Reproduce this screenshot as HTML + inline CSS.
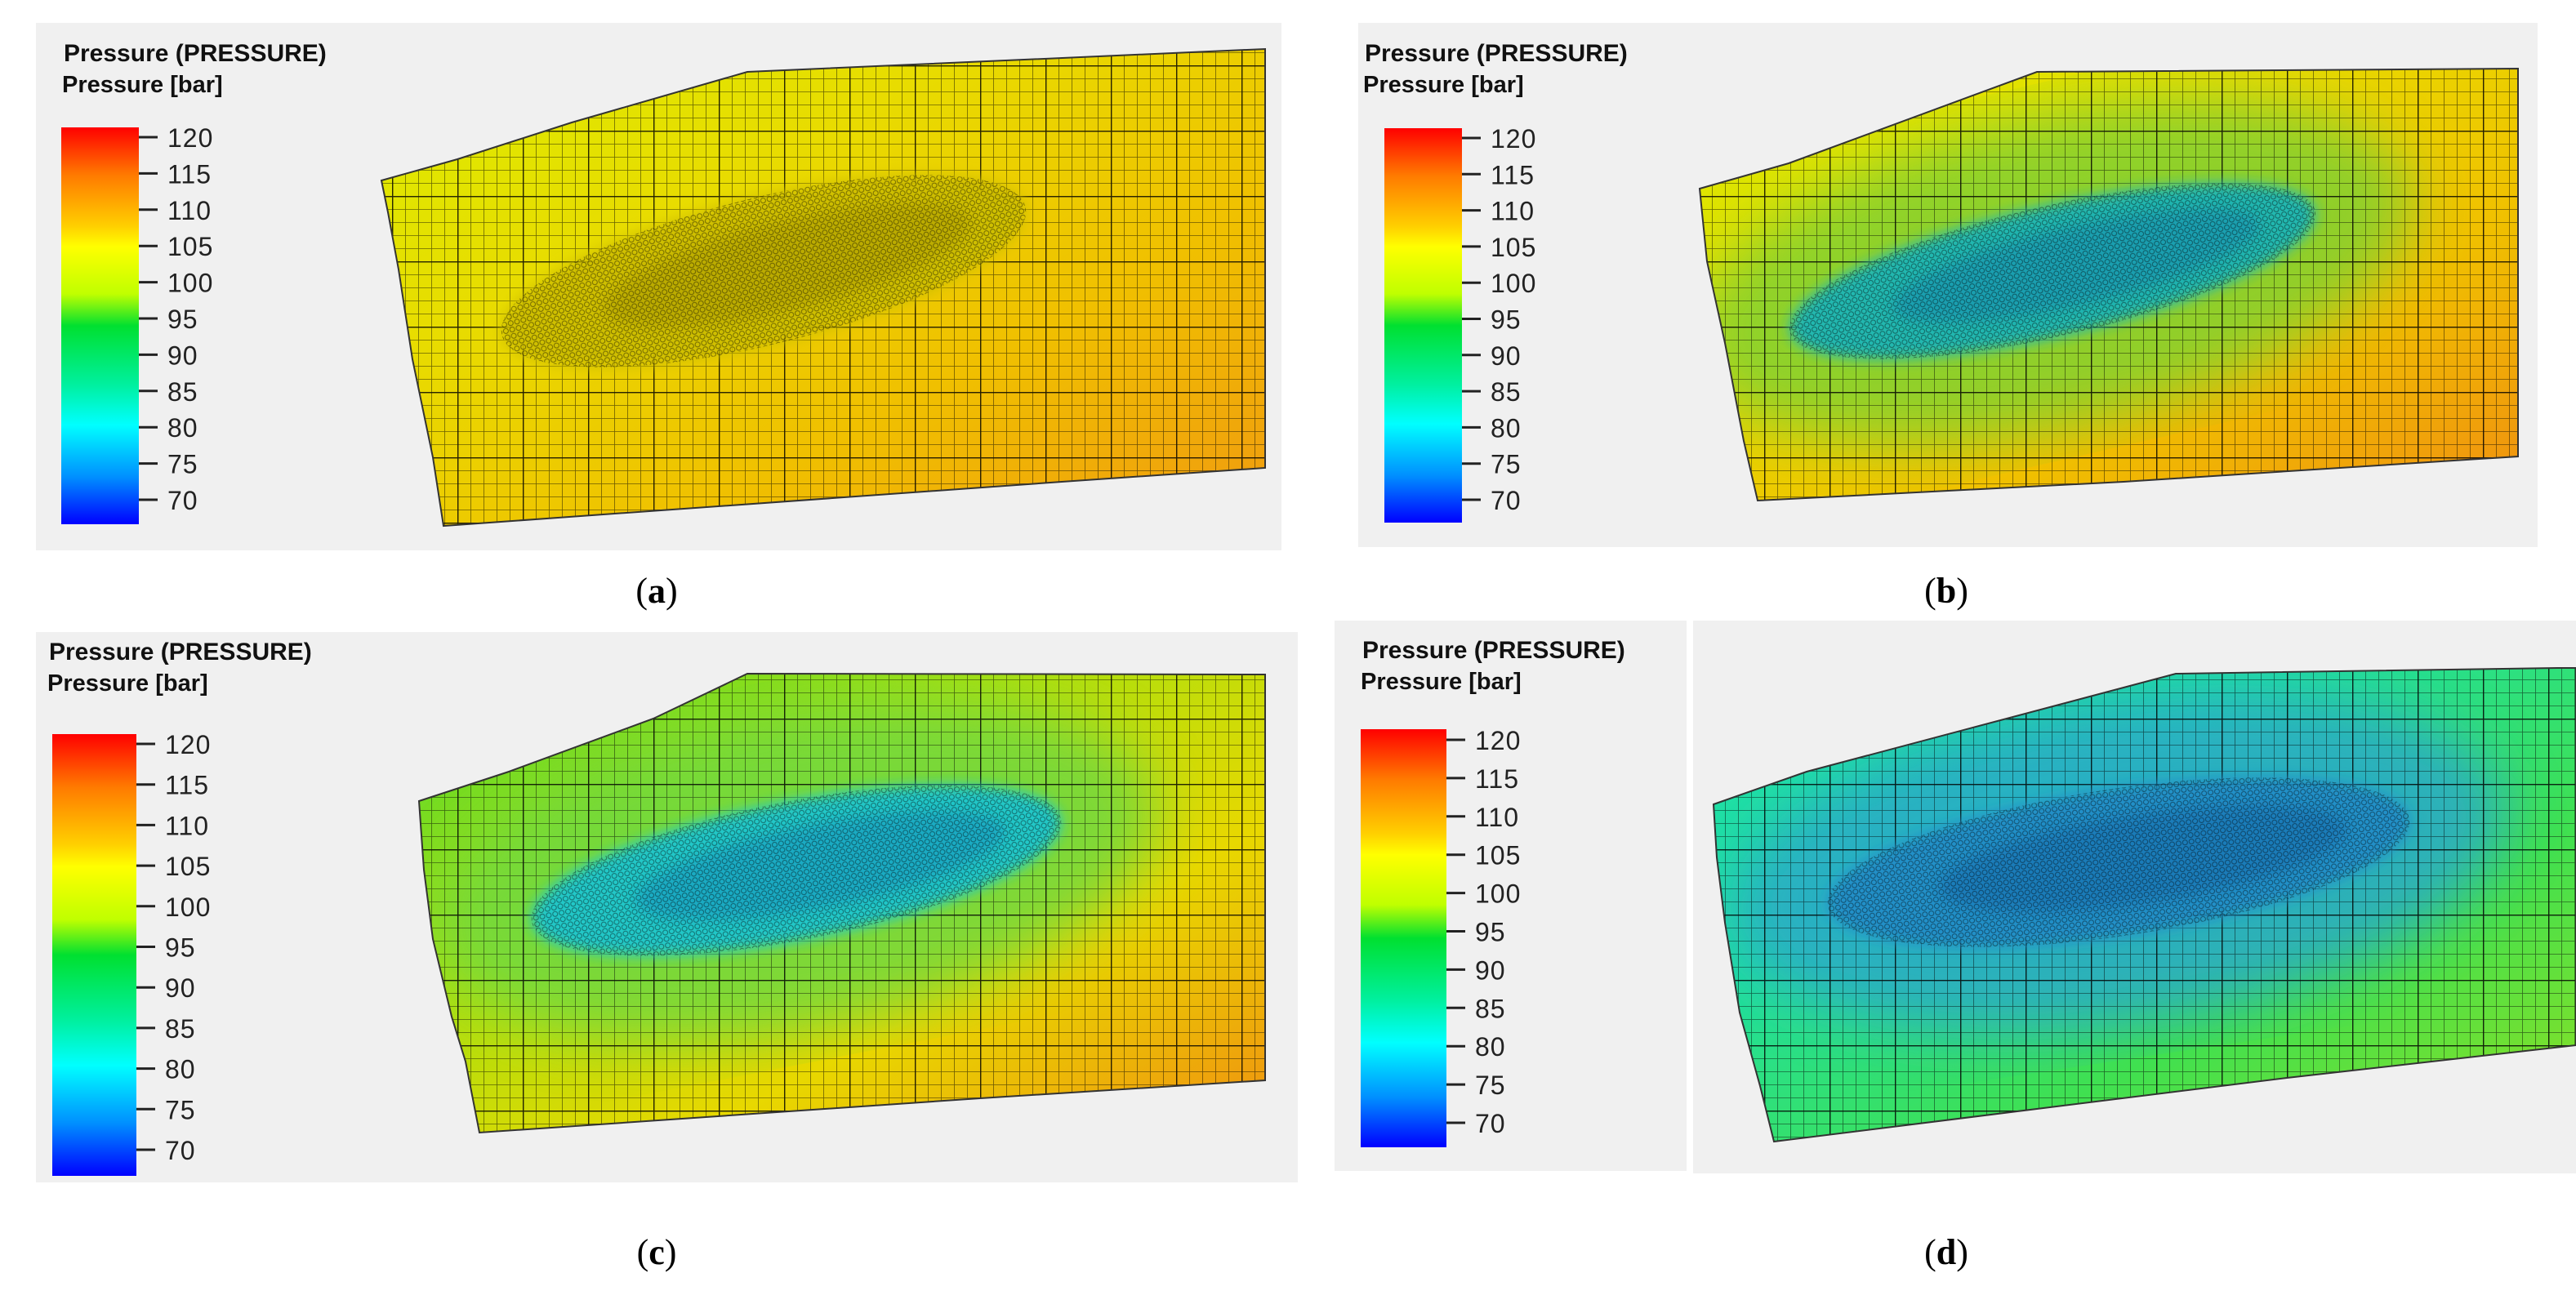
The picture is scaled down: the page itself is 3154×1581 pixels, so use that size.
<!DOCTYPE html>
<html><head><meta charset="utf-8">
<style>
html,body{margin:0;padding:0;background:#fff;}
body{width:3154px;height:1581px;position:relative;overflow:hidden;font-family:"Liberation Sans",sans-serif;}
svg{position:absolute;left:0;top:0;}
</style></head>
<body>
<svg id="fig" width="3154" height="1581" viewBox="0 0 3154 1581" xmlns="http://www.w3.org/2000/svg">
<defs>
  <linearGradient id="cbar" x1="0" y1="0" x2="0" y2="1">
    <stop offset="0" stop-color="#ff0000"/>
    <stop offset="0.12" stop-color="#ff7a00"/>
    <stop offset="0.25" stop-color="#ffd000"/>
    <stop offset="0.30" stop-color="#ffff00"/>
    <stop offset="0.42" stop-color="#c0ff00"/>
    <stop offset="0.50" stop-color="#00e030"/>
    <stop offset="0.65" stop-color="#00f0a0"/>
    <stop offset="0.75" stop-color="#00ffff"/>
    <stop offset="0.88" stop-color="#0090ff"/>
    <stop offset="1" stop-color="#0000ff"/>
  </linearGradient>
  <pattern id="grid" width="16" height="16" patternUnits="userSpaceOnUse">
    <path d="M0 0H16M0 0V16" stroke="#000" stroke-opacity="0.55" stroke-width="1.6" fill="none"/>
  </pattern>
  <pattern id="gridMajor" width="80" height="80" patternUnits="userSpaceOnUse">
    <path d="M0 0H80M0 0V80" stroke="#000" stroke-opacity="0.7" stroke-width="3" fill="none"/>
  </pattern>
  <pattern id="mesh" width="8" height="8" patternUnits="userSpaceOnUse">
    <circle cx="4" cy="4" r="3" fill="none" stroke="#000" stroke-opacity="0.45" stroke-width="1"/>
  </pattern>
  <filter id="blur30"><feGaussianBlur stdDeviation="35"/></filter>
  <filter id="blur10"><feGaussianBlur stdDeviation="8"/></filter>
</defs>
<g id="root"></g>
</svg>
<script>
// Colorbar tick values (bar)
const tickValues = [120,115,110,105,100,95,90,85,80,75,70];
const panelLabels = ['a','b','c','d'];

const NS='http://www.w3.org/2000/svg';
const root=document.getElementById('root');
function mk(tag,attrs,parent){const e=document.createElementNS(NS,tag);for(const k in attrs)e.setAttribute(k,attrs[k]);(parent||root).appendChild(e);return e;}

const panels=[
 {boxes:[[44,28,1525,646]], title:[78,65], cb:[75,156,95,486], t0:168, t1:612,
  poly:[[467,221],[560,195],[700,150],[915,88],[1549,60],[1549,573],[1300,590],[543,644],[530,560],[505,440],[488,330],[475,260]],
  g:['#dcec00','#e8dc00','#f0c000','#f09a10'], halo:null, blob:['#d0c000','#b0a000'], bc:[935,332], ang:-13.8, bl:330, bt:90, label:[804,724]},
 {boxes:[[1663,28,1444,642]], title:[1671,65], cb:[1695,157,95,483], t0:169, t1:612,
  poly:[[2081,231],[2190,200],[2494,88],[3083,84],[3083,559],[2600,590],[2152,613],[2135,540],[2112,420],[2090,320]],
  g:['#d8ec00','#e8dc00','#f0c000','#f09010'], halo:'#80d030', blob:['#20b8b0','#1890b0'], bc:[2513,332], ang:-13, bl:330, bt:80, label:[2383,724]},
 {boxes:[[44,774,1545,674]], title:[60,798], cb:[64,899,103,541], t0:911, t1:1408,
  poly:[[513,981],[623,945],[800,880],[915,825],[1549,826],[1549,1323],[1200,1345],[587,1387],[570,1300],[553,1245],[530,1150],[519,1065]],
  g:['#50d830','#a8e010','#e8d800','#f09010'], halo:'#70d840', blob:['#20c8c8','#1898c0'], bc:[975,1066], ang:-11, bl:330, bt:85, label:[804,1534]},
 {boxes:[[1634,760,431,674],[2073,760,1081,677]], title:[1668,796], cb:[1666,893,105,512], t0:906, t1:1375,
  poly:[[2098,985],[2212,945],[2664,825],[3131,818],[3154,818],[3154,1280],[2800,1320],[2172,1398],[2155,1330],[2130,1240],[2112,1130],[2102,1050]],
  g:['#20e0a8','#20e0a0','#40e050','#90e020'], halo:'#2aa8c8', blob:['#2090c8','#1870b0'], bc:[2594,1056], ang:-8.5, bl:360, bt:90, label:[2383,1534]}
];

panels.forEach((p,i)=>{
  const g=mk('g',{});
  
  
  p.boxes.forEach(b=>{
    const r=mk('rect',{x:b[0],y:b[1],width:b[2],height:b[3],fill:'#f0f0f0'},g);
    
    
  });
  const t1=mk('text',{x:p.title[0],y:p.title[1]+10,'font-size':30,'font-weight':'bold',fill:'#111'},g);
  t1.textContent='Pressure (PRESSURE)';
  
  
  const t2=mk('text',{x:p.title[0]-2,y:p.title[1]+48,'font-size':29,'font-weight':'bold',fill:'#111'},g);
  t2.textContent='Pressure [bar]';
  
  
  const [cx,cy,cw,ch]=p.cb;
  const cb=mk('rect',{x:cx,y:cy,width:cw,height:ch,fill:'url(#cbar)'},g);
  
  
  const vmax=tickValues[0], vmin=tickValues[tickValues.length-1];
  const yScale=v=>p.t0+(vmax-v)/(vmax-vmin)*(p.t1-p.t0);
  tickValues.forEach(v=>{
    const y=yScale(v);
    const l=mk('line',{x1:cx+cw,x2:cx+cw+23,y1:y,y2:y,stroke:'#222','stroke-width':3},g);
    
    
    const t=mk('text',{x:cx+cw+35,y:y+12,'font-size':32,fill:'#222','letter-spacing':'1'},g);
    t.textContent=v;
    
    
  });
  const cid='clip'+i;
  const cp=mk('clipPath',{id:cid},g);
  const pts=p.poly.map(q=>q.join(',')).join(' ');
  mk('polygon',{points:pts},cp);
  const gid='fg'+i;
  const lg=mk('linearGradient',{id:gid,x1:'0',y1:'0',x2:'1',y2:'1'},g);
  p.g.forEach((c,k)=>mk('stop',{offset:k/(p.g.length-1),'stop-color':c},lg));
  const map=mk('g',{'clip-path':'url(#'+cid+')'},g);
  
  
  const xs=p.poly.map(q=>q[0]), ys=p.poly.map(q=>q[1]);
  const bx=Math.min(...xs), by=Math.min(...ys), bw=Math.max(...xs)-bx, bh=Math.max(...ys)-by;
  mk('rect',{x:bx,y:by,width:bw,height:bh,fill:'url(#'+gid+')'},map);
  const tr='translate('+p.bc[0]+','+p.bc[1]+') rotate('+p.ang+')';
  if(p.halo){
    mk('ellipse',{cx:0,cy:0,rx:p.bl+120,ry:p.bt+110,fill:p.halo,opacity:0.85,filter:'url(#blur30)',transform:tr},map);
  }
  mk('rect',{x:bx,y:by,width:bw,height:bh,fill:'url(#grid)'},map);
  mk('rect',{x:bx,y:by,width:bw,height:bh,fill:'url(#gridMajor)'},map);
  const bl=mk('g',{transform:tr},map);
  
  
  mk('ellipse',{cx:0,cy:0,rx:p.bl,ry:p.bt,fill:p.blob[0],filter:'url(#blur10)'},bl);
  mk('ellipse',{cx:30,cy:0,rx:p.bl*0.7,ry:p.bt*0.6,fill:p.blob[1],opacity:0.6,filter:'url(#blur10)'},bl);
  mk('ellipse',{cx:0,cy:0,rx:p.bl,ry:p.bt,fill:'url(#mesh)'},bl);
  const outline=mk('polygon',{points:pts,fill:'none',stroke:'#333','stroke-width':2},g);
  
  
  const lab=mk('text',{x:p.label[0],y:p.label[1]+14,'font-size':44,'font-family':'"Liberation Serif",serif','text-anchor':'middle',fill:'#000'},g);
  lab.innerHTML='(<tspan font-weight="bold">'+panelLabels[i]+'</tspan>)';
  
  
});
</script>
</body></html>
